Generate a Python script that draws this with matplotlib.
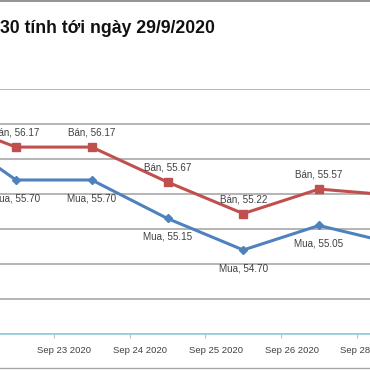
import matplotlib
matplotlib.use("Agg")
import matplotlib.pyplot as plt
from matplotlib.lines import Line2D
from matplotlib.ticker import FixedLocator, NullFormatter

# tỷ giá mua / bán (Sep 21 and Sep 28 are cut off at the edges)
dates = ["Sep 21 2020", "Sep 22 2020", "Sep 23 2020", "Sep 24 2020",
         "Sep 25 2020", "Sep 26 2020", "Sep 28 2020"]
ban = [56.58, 56.17, 56.17, 55.67, 55.22, 55.57, 55.48]
mua = [56.46, 55.70, 55.70, 55.15, 54.70, 55.05, 54.79]
title = "30 tính tới ngày 29/9/2020"

red = "#C0504D"
blue = "#4F81BD"
label_col = "#404040"

fig = plt.figure(figsize=(3.7, 3.7), dpi=100)
ax = fig.add_axes([0.0, 0.0973, 1.0, 0.6622])

x = list(range(len(dates)))
ax.plot(x, ban, color=red, lw=2.2, marker="s", ms=6, zorder=3)
ax.plot(x, mua, color=blue, lw=2.2, marker="D", ms=4.5, zorder=3)

for i in x:
    ax.annotate(f"Bán, {ban[i]:.2f}", (i, ban[i]), xytext=(0, 10.5),
                textcoords="offset points", ha="center", va="center",
                fontsize=7.1, color=label_col, family="Liberation Sans")
    ax.annotate(f"Mua, {mua[i]:.2f}", (i, mua[i]), xytext=(0, -13),
                textcoords="offset points", ha="center", va="center",
                fontsize=7.1, color=label_col, family="Liberation Sans")

ax.set_xlim(1 - 16 / 75.75, 1 + 354 / 75.75)
ax.set_ylim(53.5, 57.0)
ax.set_yticks([53.5 + 0.5 * k for k in range(8)])
ax.yaxis.grid(True, color="#A0A0A0", lw=1.1)
ax.tick_params(axis="y", length=0, labelleft=False)
ax.set_axisbelow(True)

# tick marks sit between categories, labels shifted left
ax.xaxis.set_major_locator(FixedLocator([i + 0.5 for i in x]))
ax.xaxis.set_major_formatter(NullFormatter())
ax.xaxis.set_minor_locator(FixedLocator([i - 0.363 for i in x]))
ax.set_xticklabels(dates, minor=True, fontsize=6.8, color=label_col,
                   family="Liberation Sans")
ax.tick_params(axis="x", which="major", length=3, color="#BFBFBF", width=0.8)
ax.tick_params(axis="x", which="minor", length=0, pad=9)

for s in ["top", "left", "right"]:
    ax.spines[s].set_visible(False)
ax.spines["bottom"].set_color("#92CDDC")
ax.spines["bottom"].set_linewidth(1.2)

fig.text(0.0, 0.911, title, ha="left", va="baseline", fontsize=12.7,
         fontweight="bold", family="Liberation Sans", color="#111111")

# frame lines of the screenshot
fig.add_artist(Line2D([0, 1], [0.997, 0.997], color="#808080", lw=1.2))
fig.add_artist(Line2D([0, 1], [0.005, 0.005], color="#A6A6A6", lw=1.0))

fig.savefig("out.png", dpi=100)
